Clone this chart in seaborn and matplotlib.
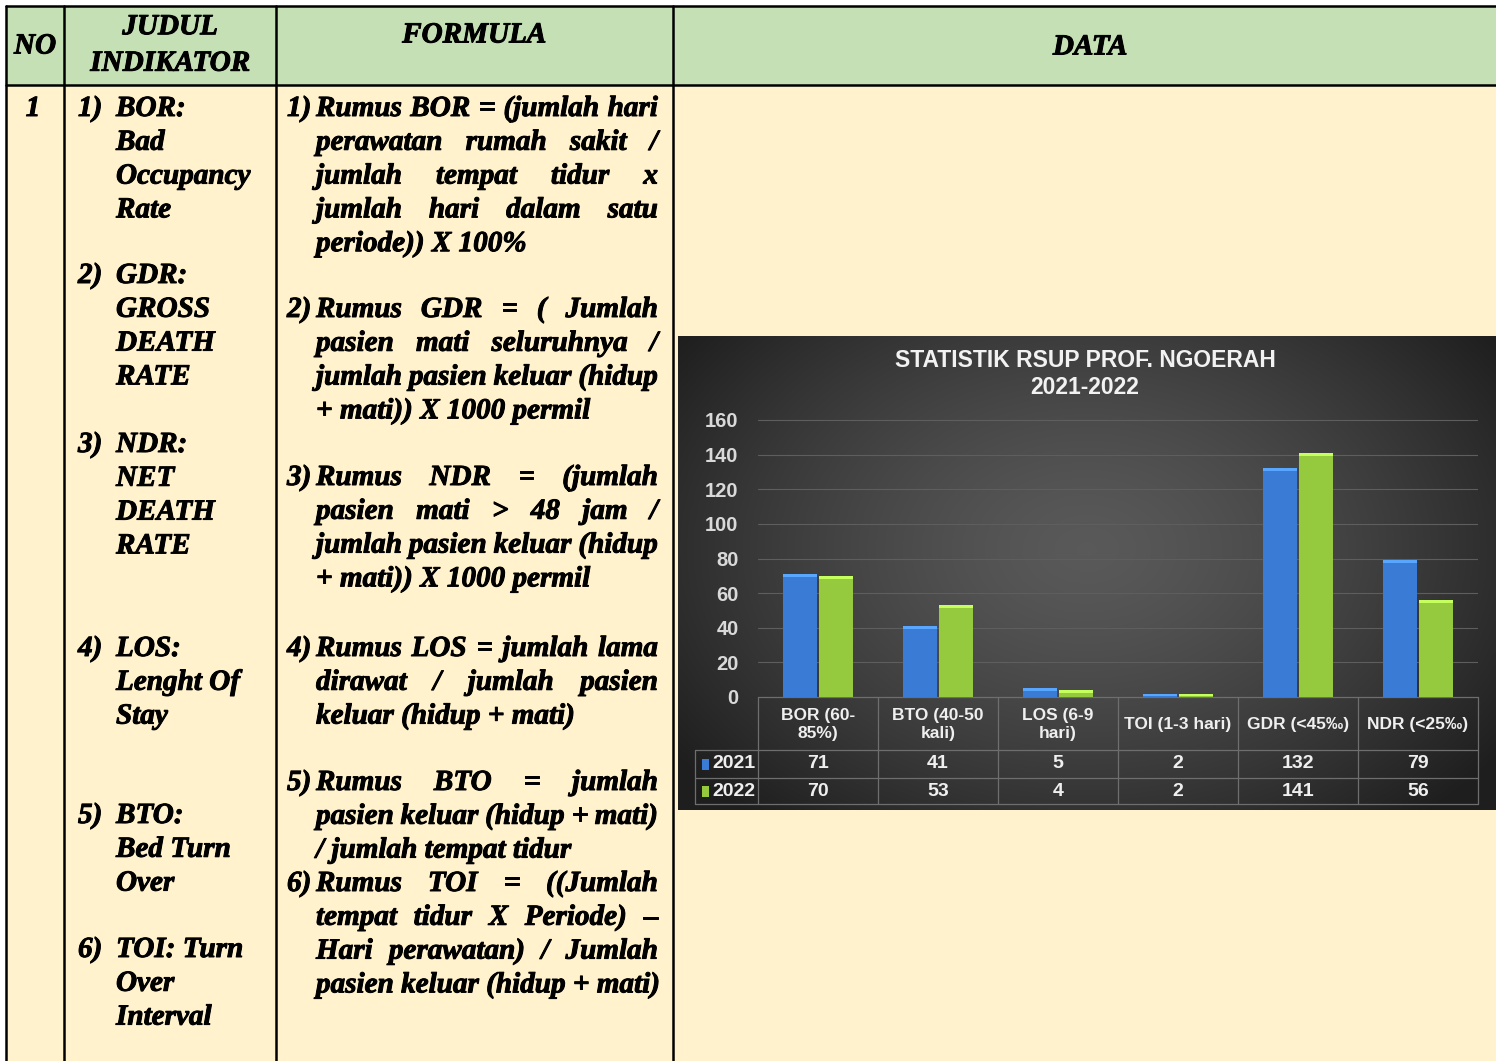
import matplotlib
matplotlib.use("Agg")
import matplotlib.pyplot as plt
from matplotlib.patches import Rectangle
import matplotlib.patheffects as pe
import seaborn as sns
import numpy as np
import pandas as pd

# ---------------- data ----------------
categories = ["BOR (60-\n85%)", "BTO (40-50\nkali)", "LOS (6-9\nhari)",
              "TOI (1-3 hari)", "GDR (<45‰)", "NDR (<25‰)"]
years = ["2021", "2022"]
values_2021 = [71, 41, 5, 2, 132, 79]
values_2022 = [70, 53, 4, 2, 141, 56]
y_ticks = [0, 20, 40, 60, 80, 100, 120, 140, 160]
chart_title = "STATISTIK RSUP PROF. NGOERAH\n2021-2022"

header_labels = ["NO", "JUDUL\nINDIKATOR", "FORMULA", "DATA"]
row_number = "1"
indicator_nums = ["1)", "2)", "3)", "4)", "5)", "6)"]
indicator_lines = [
    ["BOR:", "Bad", "Occupancy", "Rate"],
    ["GDR:", "GROSS", "DEATH", "RATE"],
    ["NDR:", "NET", "DEATH", "RATE"],
    ["LOS:", "Lenght Of", "Stay"],
    ["BTO:", "Bed Turn", "Over"],
    ["TOI: Turn", "Over", "Interval"],
]
formula_nums = ["1)", "2)", "3)", "4)", "5)", "6)"]
formula_lines = [
    ["Rumus BOR = (jumlah hari", "perawatan rumah sakit /", "jumlah tempat tidur x",
     "jumlah hari dalam satu", "periode)) X 100%"],
    ["Rumus GDR = ( Jumlah", "pasien mati seluruhnya /", "jumlah pasien keluar (hidup",
     "+ mati)) X 1000 permil"],
    ["Rumus NDR = (jumlah", "pasien mati > 48 jam /", "jumlah pasien keluar (hidup",
     "+ mati)) X 1000 permil"],
    ["Rumus LOS = jumlah lama", "dirawat / jumlah pasien", "keluar (hidup + mati)"],
    ["Rumus BTO = jumlah", "pasien keluar (hidup + mati)", "/ jumlah tempat tidur"],
    ["Rumus TOI = ((Jumlah", "tempat tidur X Periode) –", "Hari perawatan) / Jumlah",
     "pasien keluar (hidup + mati)"],
]

# ---------------- layout / style ----------------
W, H = 1496, 1061
HEADER_GREEN = "#C5E0B4"
BODY_CREAM = "#FFF2CC"
HEAVY = [pe.withStroke(linewidth=0.7, foreground="black")]
SERIF = dict(family=["Liberation Serif", "DejaVu Serif"], weight="bold", style="italic",
             color="black", path_effects=HEAVY)
NARROW = ["Liberation Sans Narrow", "Liberation Sans", "DejaVu Sans"]
BLUE, GREEN = "#3A7BD6", "#96CA3E"

sns.set_style("white")
fig = plt.figure(figsize=(W / 100, H / 100), dpi=100)
fig.patch.set_facecolor("white")

bg = fig.add_axes([0, 0, 1, 1], zorder=0)
bg.set_xlim(0, W)
bg.set_ylim(H, 0)
bg.axis("off")

# table cells
x_cols = [6, 64, 276, 673, W + 5]
y_head_top, y_head_bot = 6, 85
bg.add_patch(Rectangle((x_cols[0], y_head_top), x_cols[-1] - x_cols[0], y_head_bot - y_head_top,
                       facecolor=HEADER_GREEN, edgecolor="none"))
bg.add_patch(Rectangle((x_cols[0], y_head_bot), x_cols[-1] - x_cols[0], H - y_head_bot + 5,
                       facecolor=BODY_CREAM, edgecolor="none"))
lw = 1.8
bg.plot([x_cols[0], W], [y_head_top, y_head_top], color="black", lw=lw)
bg.plot([x_cols[0], W], [y_head_bot, y_head_bot], color="black", lw=lw)
for xc in x_cols[:4]:
    bg.plot([xc, xc], [y_head_top, H], color="black", lw=lw)

FS = 21
# header texts
bg.text(35, 46, header_labels[0], ha="center", va="center", fontsize=FS, **SERIF)
bg.text(170, 45, header_labels[1], ha="center", va="center", fontsize=FS,
        linespacing=1.45, **SERIF)
bg.text(474, 35, header_labels[2], ha="center", va="center", fontsize=FS, **SERIF)
bg.text(1090, 47, header_labels[3], ha="center", va="center", fontsize=FS, **SERIF)

BASE = 10  # baseline offset from visual center
bg.text(33, 106 + BASE, row_number, ha="center", va="baseline", fontsize=FS, **SERIF)

STEP = 33.8
ind_starts = [106, 273, 442, 646, 813, 947]
for num, lines, y0 in zip(indicator_nums, indicator_lines, ind_starts):
    bg.text(78, y0 + BASE, num, ha="left", va="baseline", fontsize=FS, **SERIF)
    for i, ln in enumerate(lines):
        bg.text(116, y0 + i * STEP + BASE, ln, ha="left", va="baseline", fontsize=FS, **SERIF)

renderer = fig.canvas.get_renderer()


def word_width(w):
    t = bg.text(0, 0, w, fontsize=FS, family=SERIF["family"], weight="bold", style="italic")
    wd = t.get_window_extent(renderer).width
    t.remove()
    return wd


form_starts = [106, 307, 475, 646, 780, 881]
x_num, x_text, x_right = 287, 316, 658
for num, lines, y0 in zip(formula_nums, formula_lines, form_starts):
    bg.text(x_num, y0 + BASE, num, ha="left", va="baseline", fontsize=FS, **SERIF)
    for i, ln in enumerate(lines):
        y = y0 + i * STEP + BASE
        words = ln.split(" ")
        if i == len(lines) - 1 or len(words) == 1:
            bg.text(x_text, y, ln, ha="left", va="baseline", fontsize=FS, **SERIF)
            continue
        widths = [word_width(w) for w in words]
        gap = max((x_right - x_text - sum(widths)) / (len(words) - 1), 2)
        x = x_text
        for w, wd in zip(words, widths):
            bg.text(x, y, w, ha="left", va="baseline", fontsize=FS, **SERIF)
            x += wd + gap

# ---------------- dark chart panel ----------------
px0, px1, py0, py1 = 678, W, 336, 810
gx = np.linspace(0, 1, 300)
gy = np.linspace(0, 1, 200)
GX, GY = np.meshgrid(gx, gy)
r = np.sqrt(((GX - 0.5) / 0.62) ** 2 + ((GY - 0.45) / 0.75) ** 2)
r = np.clip(r, 0, 1)
light, dark = 0.35, 0.12
shade = light - (light - dark) * r ** 1.4
img = np.dstack([shade, shade, shade])
bg.imshow(img, extent=[px0, px1, py1, py0], aspect="auto", zorder=1, interpolation="bilinear")
bg.set_xlim(0, W)
bg.set_ylim(H, 0)

bg.text((px0 + px1) / 2 - 2, 374, chart_title, ha="center", va="center", fontsize=16.5,
        color="#F2F2F2", family=["Liberation Sans", "DejaVu Sans"], weight="bold",
        linespacing=1.2, zorder=3)

# bar axes
y0_px, unit = 697, (697 - 420) / 160
ax_left, ax_right = 758, 1478
ymax = 165
ax = fig.add_axes([ax_left / W, (H - y0_px) / H, (ax_right - ax_left) / W, ymax * unit / H], zorder=2)
ax.patch.set_alpha(0)

df = pd.DataFrame({
    "category": categories * 2,
    "year": [years[0]] * len(categories) + [years[1]] * len(categories),
    "value": values_2021 + values_2022,
})
sns.barplot(data=df, x="category", y="value", hue="year", order=categories, hue_order=years,
            palette={years[0]: BLUE, years[1]: GREEN}, width=0.6, gap=0.06,
            saturation=1, edgecolor="none", legend=False, ax=ax, zorder=3)
ax.set_xlim(-0.5, len(categories) - 0.5)
ax.set_ylim(0, ymax)
ax.set_yticks(y_ticks)
ax.set_yticklabels([str(v) for v in y_ticks], color="#D9D9D9", fontsize=14.5,
                   family=NARROW, weight="bold")
ax.tick_params(axis="y", length=0, pad=14)
ax.set_xticks([])
ax.set_xlabel("")
ax.set_ylabel("")
for s in ax.spines.values():
    s.set_visible(False)
for v in y_ticks[1:]:
    ax.axhline(v, color="#5E5E5E", lw=0.8, zorder=1)

# lighter top caps on bars
for p in list(ax.patches):
    hgt = p.get_height()
    if hgt <= 0:
        continue
    col = np.array(matplotlib.colors.to_rgb(p.get_facecolor()))
    light_col = np.clip(col * 1.18 + 0.08, 0, 1)
    ax.add_patch(Rectangle((p.get_x(), hgt - 1.6), p.get_width(), 1.6,
                           facecolor=light_col, edgecolor="none", zorder=4))

# ---------------- data table beneath chart ----------------
def to_bg(xd, yd=0):
    dx, dy = ax.transData.transform((xd, yd))
    return dx, H - dy

row_tops = [697, 750, 778, 804]
leg_left = 695
bounds = [to_bg(i - 0.5)[0] for i in range(len(categories) + 1)]
centers = [to_bg(i)[0] for i in range(len(categories))]
grid_col = "#6E6E6E"
bg.plot([bounds[0], bounds[-1]], [row_tops[0], row_tops[0]], color=grid_col, lw=0.9, zorder=3)
for yy in row_tops[1:]:
    bg.plot([leg_left, bounds[-1]], [yy, yy], color=grid_col, lw=0.9, zorder=3)
for xb in bounds:
    bg.plot([xb, xb], [row_tops[0], row_tops[-1]], color=grid_col, lw=0.9, zorder=3)
bg.plot([leg_left, leg_left], [row_tops[1], row_tops[-1]], color=grid_col, lw=0.9, zorder=3)

txt_kw = dict(color="#EFEFEF", family=NARROW, weight="bold", zorder=4)
for c, lab in zip(centers, categories):
    bg.text(c, (row_tops[0] + row_tops[1]) / 2 + 1, lab, ha="center", va="center",
            fontsize=12.5, linespacing=1.2, **txt_kw)
for r_i, (yr, vals, colr) in enumerate(zip(years, [values_2021, values_2022], [BLUE, GREEN])):
    yc = (row_tops[r_i + 1] + row_tops[r_i + 2]) / 2
    bg.add_patch(Rectangle((702, yc - 5), 7, 11, facecolor=colr, edgecolor="none", zorder=4))
    bg.text(712, yc, yr, ha="left", va="center", fontsize=14, **txt_kw)
    for c, v in zip(centers, vals):
        bg.text(c, yc, str(v), ha="center", va="center", fontsize=14, **txt_kw)

fig.savefig("out.png", dpi=100)
